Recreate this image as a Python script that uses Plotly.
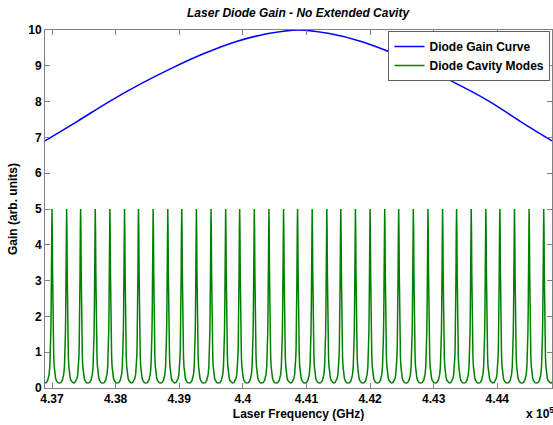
import plotly.graph_objects as go

# ---- data (frequencies in units of 1e5 GHz) ----
gain_freq = [4.3689, 4.374, 4.379, 4.384, 4.389, 4.394, 4.399, 4.404, 4.4088,
             4.4136, 4.4186, 4.4236, 4.4286, 4.4336, 4.4386, 4.4436, 4.4486]
gain_vals = [6.90, 7.45, 8.00, 8.50, 8.95, 9.35, 9.68, 9.90, 10.0,
             9.90, 9.68, 9.35, 8.95, 8.50, 8.02, 7.45, 6.90]

mode_centers = [4.3677, 4.3700, 4.3723, 4.3745, 4.3768, 4.3791, 4.3814, 4.3836,
                4.3859, 4.3882, 4.3904, 4.3927, 4.3950, 4.3973, 4.3995, 4.4018,
                4.4041, 4.4064, 4.4086, 4.4109, 4.4132, 4.4154, 4.4177, 4.4200,
                4.4223, 4.4245, 4.4268, 4.4291, 4.4314, 4.4336, 4.4359, 4.4382,
                4.4404, 4.4427, 4.4450, 4.4473, 4.4495]
# one mode's shape: offset (fraction of mode spacing) -> gain
profile_offset = [-0.5, -0.4, -0.3, -0.25, -0.2, -0.15, -0.12, -0.1, -0.08, -0.06,
                  -0.04, -0.02, 0.0, 0.02, 0.04, 0.06, 0.08, 0.1, 0.12, 0.15, 0.2,
                  0.25, 0.3, 0.4]
profile_gain = [0.14, 0.15, 0.21, 0.27, 0.38, 0.61, 0.87, 1.15, 1.58, 2.24,
                3.23, 4.39, 5.0, 4.39, 3.23, 2.24, 1.58, 1.15, 0.87, 0.61, 0.38,
                0.27, 0.21, 0.15]

x_tickvals = [4.37, 4.38, 4.39, 4.40, 4.41, 4.42, 4.43, 4.44]
x_ticktext = ["4.37", "4.38", "4.39", "4.4", "4.41", "4.42", "4.43", "4.44"]
y_tickvals = [0, 1, 2, 3, 4, 5, 6, 7, 8, 9, 10]

# ---- build the mode comb trace from the per-mode profile ----
spacing = (mode_centers[-1] - mode_centers[0]) / (len(mode_centers) - 1)
mode_x, mode_y = [], []
for c in mode_centers:
    for o, g in zip(profile_offset, profile_gain):
        mode_x.append(c + o * spacing)
        mode_y.append(g)

FONT = "Liberation Sans, Arial, sans-serif"
AX = "#808080"

fig = go.Figure()
fig.add_trace(go.Scatter(x=gain_freq, y=gain_vals, mode="lines",
                         line=dict(color="#0000FF", width=1.5, shape="spline"),
                         name="Diode Gain Curve"))
fig.add_trace(go.Scatter(x=mode_x, y=mode_y, mode="lines",
                         line=dict(color="#008000", width=1.5),
                         name="Diode Cavity Modes"))

fig.update_layout(
    width=553, height=425,
    margin=dict(l=45, r=1, t=30, b=37),
    paper_bgcolor="white", plot_bgcolor="white",
    font=dict(family=FONT, size=12, color="black"),
    title=dict(text="<b><i>Laser Diode Gain - No Extended Cavity</i></b>",
               x=0.539, xanchor="center", y=1 - 13 / 425, yanchor="middle",
               font=dict(size=12, family=FONT)),
    showlegend=True,
    legend=dict(x=0.997, xanchor="right", y=0.997, yanchor="top",
                bgcolor="white", bordercolor="#606060", borderwidth=1,
                font=dict(size=12, family=FONT, weight="bold"),
                tracegroupgap=0, itemwidth=30),
    xaxis=dict(range=[4.3689, 4.4486], tickvals=x_tickvals, ticktext=x_ticktext,
               ticks="inside", ticklen=5, tickcolor=AX, showline=True,
               linecolor=AX, linewidth=1, mirror="allticks", showgrid=False,
               zeroline=False,
               tickfont=dict(size=12, family=FONT, weight="bold"),
               title=dict(text="<b>Laser Frequency (GHz)</b>", standoff=4,
                          font=dict(size=12, family=FONT))),
    yaxis=dict(range=[0, 10], tickvals=y_tickvals,
               ticks="inside", ticklen=5, tickcolor=AX, showline=True,
               linecolor=AX, linewidth=1, mirror="allticks", showgrid=False,
               zeroline=False,
               tickfont=dict(size=12, family=FONT, weight="bold"),
               title=dict(text="<b>Gain (arb. units)</b>", standoff=8,
                          font=dict(size=12, family=FONT))),
)
fig.add_annotation(text="<b>x 10<sup>5</sup></b>", xref="paper", yref="paper",
                   x=(524 - 45) / 507, xanchor="left", y=-62 / 358 * 0 - 0.07,
                   yanchor="middle", showarrow=False,
                   font=dict(size=12, family=FONT))

fig.write_html("out.html")
